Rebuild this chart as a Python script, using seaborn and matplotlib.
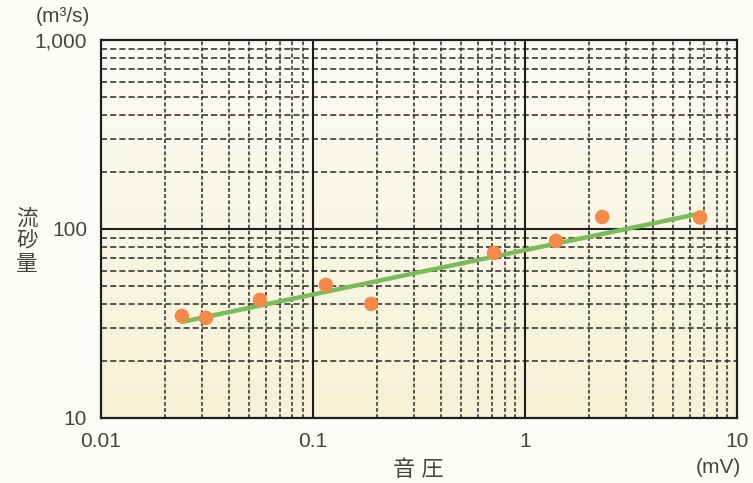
import numpy as np
import pandas as pd
import seaborn as sns
import matplotlib.pyplot as plt
from matplotlib.ticker import FixedLocator, NullFormatter

# measured points
voltage = [0.0241, 0.0313, 0.0562, 0.115, 0.188, 0.714, 1.40, 2.31, 6.69]
flow = [34.6, 33.8, 42.1, 50.5, 40.1, 74.6, 86.4, 115.7, 115.0]
# fitted line ends
fit_x = [0.0241, 6.9]
fit_y = [32.2, 121.6]

x_ticks = [0.01, 0.1, 1, 10]
x_labels = ['0.01', '0.1', '1', '10']
y_ticks = [10, 100, 1000]
y_labels = ['10', '100', '1,000']

sns.set_style('white')
plt.rcParams['font.family'] = ['Liberation Sans', 'Noto Sans CJK JP', 'DejaVu Sans']

df = pd.DataFrame({'v': voltage, 'q': flow})
df_fit = pd.DataFrame({'v': fit_x, 'q': fit_y})

fig = plt.figure(figsize=(7.53, 4.83), dpi=100, facecolor='#fdfdf8')
ax = fig.add_axes([0.134, 0.135, 0.845, 0.782])
ax.set_xscale('log')
ax.set_yscale('log')
ax.set_xlim(0.01, 10)
ax.set_ylim(10, 1000)

# background gradient, pale at top to light yellow at bottom
grad = np.linspace(0, 1, 256).reshape(-1, 1)
top = np.array([0.988, 0.985, 0.960])
bot = np.array([0.970, 0.948, 0.835])
img = top + (bot - top) * grad[..., None]
ax.imshow(img, extent=[0, 1, 0, 1], origin='upper', transform=ax.transAxes,
          aspect='auto', zorder=0)

# grid
minor_x = [m * 10.0 ** e for e in (-2, -1, 0) for m in range(2, 10)]
minor_y = [m * 10.0 ** e for e in (1, 2) for m in range(2, 10)]
for v in minor_x:
    ax.axvline(v, color='#2a2a2a', lw=1.1, ls=(0, (2.5, 1.5)), zorder=1)
for v in minor_y:
    ax.axhline(v, color='#2a2a2a', lw=1.1, ls=(0, (4, 2)), zorder=1)
for v in [0.1, 1]:
    ax.axvline(v, color='#1e1e1e', lw=1.5, zorder=1)
ax.axhline(100, color='#1e1e1e', lw=1.5, zorder=1)

sns.lineplot(data=df_fit, x='v', y='q', ax=ax, color='#7cba5c', lw=3.2, zorder=3)
sns.scatterplot(data=df, x='v', y='q', ax=ax, color='#f28a4c', s=110,
                edgecolor='none', zorder=4)

ax.xaxis.set_major_locator(FixedLocator(x_ticks))
ax.yaxis.set_major_locator(FixedLocator(y_ticks))
ax.set_xticklabels(x_labels)
ax.set_yticklabels(y_labels)
ax.xaxis.set_minor_formatter(NullFormatter())
ax.yaxis.set_minor_formatter(NullFormatter())
ax.tick_params(which='both', length=0, labelsize=15, labelcolor='#444444')
ax.tick_params(axis='x', pad=10)
ax.tick_params(axis='y', pad=10)
ax.set_xlabel('')
ax.set_ylabel('')
for s in ax.spines.values():
    s.set_color('#1e1e1e')
    s.set_linewidth(1.6)

fig.text(0.083, 0.965, '(m³/s)', fontsize=15, color='#444444', ha='center', va='center')
fig.text(0.036, 0.50, '流\n砂\n量', fontsize=15.5, color='#444444', ha='center', va='center',
         linespacing=1.1)
fig.text(0.555, 0.025, '音 圧', fontsize=16, color='#444444', ha='center', va='center')
fig.text(0.954, 0.033, '(mV)', fontsize=15, color='#444444', ha='center', va='center')

fig.savefig('out.png', dpi=100, facecolor=fig.get_facecolor())
